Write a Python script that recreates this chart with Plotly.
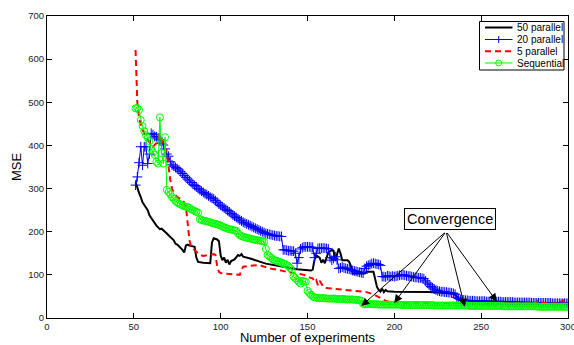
import plotly.graph_objects as go

# ---------------- data ----------------
exp_x = list(range(51, 301))

# 20 parallel (one value per experiment, 51..300)
par20_y = [
    308, 327, 360, 397, 354, 397, 397, 358, 380, 428,
    425, 421, 420, 417, 413, 405, 401, 392, 380, 375,
    362, 355, 352, 349, 346, 343, 339, 335, 330, 326,
    322, 318, 314, 310, 307, 304, 300, 297, 294, 291,
    288, 286, 283, 280, 278, 276, 272, 268, 264, 261,
    258, 255, 252, 249, 246, 242, 239, 236, 233, 230,
    227, 225, 222, 220, 218, 216, 214, 212, 210, 208,
    206, 204, 202, 200, 198, 196, 195, 194, 193, 192,
    191, 190, 190, 189, 189, 158, 158, 157, 156, 156,
    155, 155, 150, 127, 140, 160, 163, 165, 165, 165,
    165, 164, 164, 140, 150, 161, 162, 162, 162, 162,
    161, 160, 140, 134, 138, 142, 135, 115, 116, 118,
    116, 115, 114, 113, 112, 110, 109, 108, 107, 106,
    105, 104, 115, 120, 122, 124, 126, 127, 126, 125,
    124, 122, 96, 96, 95, 98, 97, 96, 97, 96,
    97, 98, 99, 100, 100, 99, 98, 97, 97, 96,
    95, 94, 94, 93, 93, 92, 91, 86, 81, 77,
    73, 70, 67, 65, 63, 62, 61, 61, 60, 60,
    59, 59, 58, 57, 55, 48, 45, 43, 42, 42,
    41, 41, 40, 40, 40, 40, 39, 39, 39, 39,
    39, 39, 38, 38, 38, 38, 38, 38, 38, 38,
    38, 37, 37, 37, 37, 37, 37, 37, 36, 36,
    36, 36, 36, 36, 36, 36, 36, 36, 35, 35,
    35, 35, 35, 35, 35, 35, 35, 35, 35, 35,
    34, 34, 34, 34, 34, 34, 34, 34, 34, 34,
]

# Sequential (one value per experiment, 51..300)
seq_y = [
    486, 487, 482, 459, 445, 433, 424, 418, 410, 392,
    384, 378, 362, 358, 465, 382, 358, 419, 297, 292,
    287, 280, 276, 271, 268, 265, 263, 261, 259, 258,
    257, 255, 252, 250, 248, 246, 244, 229, 227, 226,
    225, 224, 223, 222, 220, 219, 218, 217, 216, 214,
    212, 210, 209, 207, 206, 205, 204, 203, 202, 196,
    192, 190, 188, 187, 186, 185, 184, 183, 182, 181,
    180, 180, 179, 178, 177, 160, 146, 143, 140, 136,
    134, 133, 131, 130, 128, 127, 125, 123, 120, 116,
    111, 96, 92, 88, 84, 80, 86, 85, 84, 63,
    58, 54, 50, 48, 47, 46, 46, 46, 46, 46,
    45, 45, 45, 45, 45, 45, 44, 44, 44, 44,
    44, 43, 43, 43, 43, 43, 42, 42, 42, 41,
    40, 33, 32, 32, 32, 32, 32, 32, 32, 32,
    31, 31, 31, 31, 31, 31, 31, 31, 31, 31,
    31, 31, 31, 30, 30, 30, 30, 30, 30, 30,
    30, 30, 30, 30, 30, 30, 30, 30, 30, 30,
    30, 30, 29, 29, 29, 29, 29, 29, 29, 29,
    29, 29, 29, 29, 29, 29, 29, 29, 29, 29,
    29, 29, 28, 28, 28, 28, 28, 28, 28, 28,
    28, 28, 28, 28, 28, 28, 28, 28, 28, 28,
    28, 28, 27, 27, 27, 27, 27, 27, 27, 27,
    27, 27, 27, 27, 27, 27, 27, 27, 27, 27,
    27, 27, 26, 26, 26, 26, 26, 26, 26, 26,
    26, 26, 26, 26, 26, 26, 26, 26, 26, 26,
]

# 50 parallel (line vertices)
par50_x = [51, 52, 53, 54, 55, 56, 57, 58, 59, 60,
           61, 62, 63, 64, 65, 66, 67, 68, 69, 70,
           71, 72, 73, 74, 75, 76, 77, 78, 79, 80,
           81, 82, 84, 85, 86, 87, 90, 94, 95, 96,
           98, 99, 100, 101, 102, 103, 104, 105, 106, 108,
           110, 111, 112, 113, 117, 126, 136, 144, 152, 153,
           154, 155, 157, 158, 159, 160, 161, 162, 164, 165,
           166, 167, 168, 169, 170, 173, 174, 175, 176, 183,
           184, 188, 189, 190, 191, 192, 193, 194, 195, 196,
           200, 220, 234, 236, 237, 240, 260, 280, 300]
par50_y = [315, 300, 290, 280, 268, 262, 255, 250, 238, 232,
           224, 218, 214, 210, 206, 207, 204, 200, 196, 192,
           189, 184, 180, 172, 170, 166, 163, 158, 152, 168,
           170, 168, 166, 165, 140, 130, 128, 127, 175, 185,
           182, 178, 145, 134, 140, 128, 135, 124, 132, 136,
           146, 144, 148, 142, 138, 126, 119, 113, 110, 112,
           134, 145, 140, 128, 135, 127, 140, 152, 158, 156,
           134, 150, 161, 150, 134, 134, 130, 120, 103, 103,
           107, 107, 90, 72, 65, 61, 68, 60, 65, 62,
           61, 60, 57, 50, 42, 40, 38, 36, 33]

# 5 parallel (line vertices)
par5_x = [51, 52, 53, 55, 58, 61, 63, 65, 66, 68,
          69, 70, 71, 72, 73, 75, 78, 79, 80, 81,
          82, 83, 86, 88, 90, 94, 96, 97, 98, 99,
          100, 105, 111, 112, 113, 117, 122, 128, 133, 138,
          143, 148, 150, 153, 154, 155, 156, 157, 158, 159,
          160, 165, 170, 175, 180, 184, 188, 190, 193, 196,
          200, 220, 240, 260, 270, 280, 282, 283, 285, 290,
          295, 297, 298, 300]
par5_y = [621, 500, 463, 436, 413, 397, 405, 428, 413, 395,
          380, 343, 320, 300, 289, 280, 274, 268, 258, 220,
          181, 165, 154, 146, 144, 146, 148, 146, 120, 107,
          104, 102, 100, 112, 119, 121, 123, 115, 112, 107,
          104, 100, 95, 92, 84, 88, 76, 86, 80, 73,
          70, 68, 65, 63, 62, 60, 55, 50, 44, 38,
          36, 35, 34, 34, 34, 34, 36, 42, 36, 34,
          34, 41, 36, 34]

series_names = ["50 parallel", "20 parallel", "5 parallel", "Sequential"]
x_ticks = [0, 50, 100, 150, 200, 250, 300]
y_ticks = [0, 100, 200, 300, 400, 500, 600, 700]

# convergence arrows: tips (x, y) and common tail
conv_tip_x = [181, 200, 240.5, 259]
conv_tip_y = [28, 35, 26, 38]
conv_tail = (229.8, 200.5)

# ---------------- figure ----------------
FONT = "Liberation Sans, Arial, sans-serif"
BLUE = "#0000ff"
GREEN = "#00ff00"
RED = "#ff0000"

W, H = 574, 345
L, R, T, B = 47, 6, 16, 27
PW, PH = W - L - R, H - T - B


def px(xp):
    return (xp - L) / PW


def py(yp):
    return (H - B - yp) / PH


fig = go.Figure()
fig.add_trace(go.Scatter(x=par50_x, y=par50_y, mode="lines", name=series_names[0],
                         line=dict(color="black", width=2), showlegend=False))
fig.add_trace(go.Scatter(x=exp_x, y=par20_y, mode="lines+markers", name=series_names[1],
                         line=dict(color=BLUE, width=1),
                         marker=dict(symbol="cross-thin", size=7,
                                     line=dict(color=BLUE, width=1)),
                         showlegend=False))
fig.add_trace(go.Scatter(x=par5_x, y=par5_y, mode="lines", name=series_names[2],
                         line=dict(color=RED, width=2, dash="6px,4px"), showlegend=False))
fig.add_trace(go.Scatter(x=exp_x, y=seq_y, mode="lines+markers", name=series_names[3],
                         line=dict(color=GREEN, width=1),
                         marker=dict(symbol="circle-open", size=7, color=GREEN,
                                     line=dict(color=GREEN, width=1)),
                         showlegend=False))

shapes = []
annotations = []

# manual legend (compact, MATLAB style)
lx0, lx1, ly0, ly1 = 479.5, 564, 21.5, 70
shapes.append(dict(type="rect", xref="paper", yref="paper",
                   x0=px(lx0), x1=px(lx1), y0=py(ly1), y1=py(ly0),
                   line=dict(color="black", width=1), fillcolor="white", layer="above"))
entry_y = [27.5, 39.5, 51.2, 63]
sx0, sx1, smid = 485, 512.5, 498.7
styles = [dict(color="black", width=2), dict(color=BLUE, width=1),
          dict(color=RED, width=2, dash="6px,4px"), dict(color=GREEN, width=1)]
for i, name in enumerate(series_names):
    yy = py(entry_y[i])
    shapes.append(dict(type="line", xref="paper", yref="paper",
                       x0=px(sx0), x1=px(sx1), y0=yy, y1=yy, line=styles[i], layer="above"))
    annotations.append(dict(text=name, xref="paper", yref="paper", x=px(514.5), y=yy,
                            xanchor="left", yanchor="middle", showarrow=False,
                            font=dict(family=FONT, size=10, color="black")))
# legend markers
yb = entry_y[1]
shapes.append(dict(type="line", xref="paper", yref="paper", x0=px(smid - 3.5), x1=px(smid + 3.5),
                   y0=py(yb), y1=py(yb), line=dict(color=BLUE, width=1), layer="above"))
shapes.append(dict(type="line", xref="paper", yref="paper", x0=px(smid), x1=px(smid),
                   y0=py(yb - 3.5), y1=py(yb + 3.5), line=dict(color=BLUE, width=1), layer="above"))
yg = entry_y[3]
shapes.append(dict(type="circle", xref="paper", yref="paper", x0=px(smid - 3), x1=px(smid + 3),
                   y0=py(yg + 3), y1=py(yg - 3), line=dict(color=GREEN, width=1),
                   fillcolor="rgba(0,0,0,0)", layer="above"))

# convergence annotation + arrows
for tx, ty in zip(conv_tip_x, conv_tip_y):
    annotations.append(dict(x=tx, y=ty, ax=conv_tail[0], ay=conv_tail[1],
                            xref="x", yref="y", axref="x", ayref="y", text="",
                            showarrow=True, arrowhead=2, arrowsize=1.6, arrowwidth=1,
                            arrowcolor="black", standoff=0, startstandoff=0))
annotations.append(dict(x=232, y=229.5, xref="x", yref="y", text="Convergence",
                        showarrow=False, font=dict(family=FONT, size=14.5, color="black"),
                        bgcolor="white", bordercolor="black", borderwidth=1, borderpad=2))

axis_common = dict(showline=True, linecolor="black", linewidth=1, mirror="ticks",
                   ticks="inside", ticklen=5, tickwidth=1, tickcolor="black",
                   showgrid=False, zeroline=False, automargin=False,
                   ticklabeloverflow="allow",
                   tickfont=dict(family=FONT, size=9.5, color="#222222"))

fig.update_layout(
    width=W, height=H,
    margin=dict(l=L, r=R, t=T, b=B, pad=0, autoexpand=False),
    paper_bgcolor="white", plot_bgcolor="white",
    font=dict(family=FONT, color="black"),
    showlegend=False,
    xaxis=dict(range=[0, 300], tickvals=x_ticks, ticktext=[str(v) for v in x_ticks],
               title=dict(text="Number of experiments", font=dict(family=FONT, size=13),
                          standoff=0),
               **axis_common),
    yaxis=dict(range=[0, 700], tickvals=y_ticks, ticktext=[str(v) for v in y_ticks],
               title=dict(text="MSE", font=dict(family=FONT, size=13), standoff=3),
               **axis_common),
    shapes=shapes,
    annotations=annotations,
)

fig.write_html("out.html",
               config={"displayModeBar": False},
               post_script="document.body.style.margin='0';document.body.style.padding='0';")
